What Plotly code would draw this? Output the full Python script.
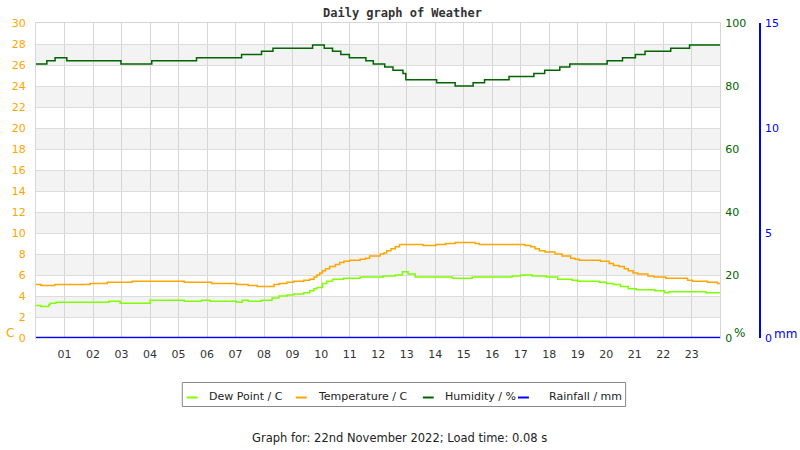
import plotly.graph_objects as go

# ---------------- data ----------------
hours = list(range(1, 24))
hour_labels = [f"{h:02d}" for h in hours]

temp_times = [0, 0.17, 0.66, 1.9, 2.5, 3.37, 5.2, 6.16, 7.03, 7.44, 7.76, 8.35, 8.52, 8.8, 9.04,
              9.39, 9.6, 9.75, 9.85, 9.95, 10.05, 10.15, 10.3, 10.5, 10.65, 10.8, 11.0, 11.37,
              11.55, 11.7, 12.07, 12.2, 12.3, 12.45, 12.6, 12.75, 13.57, 14.02, 14.37, 14.7,
              15.4, 15.55, 17.15, 17.35, 17.5, 17.65, 17.85, 18.2, 18.45, 18.75, 18.9, 19.05,
              19.8, 20.1, 20.25, 20.45, 20.63, 20.77, 20.94, 21.1, 21.46, 21.67, 22.09, 22.85,
              23.03, 23.55, 23.9, 24.0]
temp_values = [5.1, 5.0, 5.1, 5.2, 5.3, 5.4, 5.3, 5.2, 5.1, 5.0, 4.9, 5.1, 5.2, 5.3, 5.4,
               5.5, 5.6, 5.8, 6.0, 6.2, 6.4, 6.6, 6.8, 7.0, 7.2, 7.3, 7.4, 7.5,
               7.6, 7.8, 8.0, 8.1, 8.3, 8.5, 8.7, 8.9, 8.8, 8.9, 9.0, 9.1,
               9.0, 8.9, 8.8, 8.7, 8.5, 8.3, 8.2, 8.0, 7.8, 7.6, 7.5, 7.4,
               7.3, 7.1, 6.9, 6.8, 6.6, 6.4, 6.2, 6.1, 5.9, 5.8, 5.7, 5.5,
               5.4, 5.3, 5.2, 5.2]

dew_times = [0, 0.17, 0.45, 0.5, 0.7, 2.55, 2.95, 4.0, 5.2, 5.8, 6.1, 7.03, 7.23, 7.44, 7.9,
             8.28, 8.52, 8.8, 9.04, 9.39, 9.6, 9.75, 9.85, 10.05, 10.2, 10.4, 10.78, 11.37,
             12.17, 12.6, 12.85, 13.05, 13.3, 14.6, 15.3, 16.7, 17.0, 17.4, 17.9, 18.3, 18.8,
             19.0, 19.75, 20.0, 20.25, 20.5, 20.77, 21.05, 21.7, 22.05, 22.2, 23.5, 24.0]
dew_values = [3.1, 3.0, 3.2, 3.3, 3.4, 3.5, 3.3, 3.6, 3.5, 3.6, 3.5, 3.4, 3.6, 3.5, 3.6,
              3.8, 4.0, 4.1, 4.2, 4.3, 4.5, 4.7, 4.8, 5.2, 5.4, 5.6, 5.7, 5.8,
              5.9, 6.0, 6.3, 6.1, 5.8, 5.7, 5.8, 5.9, 6.0, 5.9, 5.8, 5.6, 5.5,
              5.4, 5.3, 5.2, 5.1, 4.9, 4.7, 4.6, 4.5, 4.3, 4.4, 4.3, 4.3]

hum_times = [0, 0.38, 0.67, 1.08, 2.98, 4.06, 5.63, 7.21, 7.91, 8.31, 9.70, 10.11, 10.40,
             10.69, 10.99, 11.57, 11.83, 12.23, 12.52, 12.87, 12.97, 14.05, 14.70, 15.33,
             15.73, 16.59, 17.46, 17.84, 18.37, 18.72, 20.03, 20.57, 21.02, 21.36, 22.26,
             22.92, 24.0]
hum_values = [87, 88, 89, 88, 87, 88, 89, 90, 91, 92, 93, 92, 91,
              90, 89, 88, 87, 86, 85, 84, 82, 81, 80, 81,
              82, 83, 84, 85, 86, 87, 88, 89, 90, 91, 92,
              93, 93]

rain_times = [0, 24]
rain_values = [0, 0]

series_names = ["Dew Point / C", "Temperature / C", "Humidity / %", "Rainfall / mm"]
series_colors = ["#7fff00", "#ffa500", "#006400", "#0000ff"]

# ---------------- geometry helpers ----------------
W, H = 800, 450
ML, MR, MT, MB = 30, 40, 23, 112
PW = W - ML - MR
PH = H - MT - MB
x_dom_end = (720 - ML) / PW


def px(x):
    return (x - ML) / PW


def py(y):
    return (H - MB - y) / PH


FONT = "DejaVu Sans"

fig = go.Figure()
fig.add_trace(go.Scatter(x=rain_times, y=rain_values, mode="lines", name=series_names[3],
                         line=dict(color=series_colors[3], width=2.5), yaxis="y3",
                         showlegend=False))
fig.add_trace(go.Scatter(x=hum_times, y=hum_values, mode="lines", name=series_names[2],
                         line=dict(color=series_colors[2], width=1.5, shape="hv"), yaxis="y2",
                         showlegend=False))
fig.add_trace(go.Scatter(x=temp_times, y=temp_values, mode="lines", name=series_names[1],
                         line=dict(color=series_colors[1], width=1.5, shape="hv"),
                         showlegend=False))
fig.add_trace(go.Scatter(x=dew_times, y=dew_values, mode="lines", name=series_names[0],
                         line=dict(color=series_colors[0], width=1.5, shape="hv"),
                         showlegend=False))

shapes = []
for lo in range(2, 28, 4):
    shapes.append(dict(type="rect", xref="x", yref="y", x0=0, x1=24, y0=lo, y1=lo + 2,
                       fillcolor="#f3f3f3", line=dict(width=0), layer="below"))

# manual legend
shapes.append(dict(type="rect", xref="paper", yref="paper", x0=px(177.5), x1=px(624.5),
                   y0=py(406.5), y1=py(382.5), line=dict(color="#888888", width=1),
                   fillcolor="white"))
legend_line_x = [182, 292, 420, 516]
legend_text_x = [202, 312, 440, 545]
annotations = []
for name, col, lx, tx in zip(series_names, series_colors, legend_line_x, legend_text_x):
    shapes.append(dict(type="line", xref="paper", yref="paper", x0=px(lx), x1=px(lx + 11),
                       y0=py(397.5), y1=py(397.5), line=dict(color=col, width=2)))
    annotations.append(dict(text=name, xref="paper", yref="paper", x=px(tx), y=py(396),
                            xanchor="left", yanchor="middle", showarrow=False,
                            font=dict(family=FONT, size=11, color="#222222")))

annotations += [
    dict(text="Daily graph of Weather", xref="paper", yref="paper", x=px(400), y=py(13),
         xanchor="center", yanchor="middle", showarrow=False,
         font=dict(family="DejaVu Sans Mono", size=12, color="#333333", weight="bold")),
    dict(text="C", xref="paper", yref="paper", x=px(4), y=py(333), xanchor="center",
         yanchor="middle", showarrow=False, font=dict(family=FONT, size=12, color="#ffa500")),
    dict(text="%", xref="paper", yref="paper", x=px(739), y=py(333), xanchor="center",
         yanchor="middle", showarrow=False, font=dict(family=FONT, size=12, color="#006400")),
    dict(text="mm", xref="paper", yref="paper", x=px(786), y=py(334), xanchor="center",
         yanchor="middle", showarrow=False, font=dict(family=FONT, size=12, color="#0000ff")),
    dict(text="Graph for: 22nd November 2022; Load time: 0.08 s", xref="paper",
         yref="paper", x=px(397), y=py(438), xanchor="center", yanchor="middle",
         showarrow=False, font=dict(family=FONT, size=11.5, color="#222222")),
]

fig.update_layout(
    width=W, height=H,
    margin=dict(l=ML, r=MR, t=MT, b=MB, pad=0),
    paper_bgcolor="white", plot_bgcolor="white",
    showlegend=False,
    font=dict(family=FONT, size=11, color="#333333"),
    xaxis=dict(domain=[0, x_dom_end], range=[0, 24], tickmode="array", tickvals=hours,
               ticktext=hour_labels, showgrid=True, gridcolor="#d6d6d6", gridwidth=1,
               zeroline=False, showline=True, linecolor="#d6d6d6", mirror=True,
               ticks="", ticklabelstandoff=6, tickfont=dict(size=11, color="#333333")),
    yaxis=dict(range=[0, 30], dtick=2, showgrid=True, gridcolor="#dcdcdc", zeroline=False,
               showline=True, linecolor="#d6d6d6", mirror=True, ticks="",
               ticklabelstandoff=7, tickfont=dict(size=11, color="#ffa500")),
    yaxis2=dict(range=[0, 100], dtick=20, overlaying="y", side="right", anchor="x",
                showgrid=False, zeroline=False, showline=False, ticks="",
                ticklabelstandoff=4, tickfont=dict(size=11, color="#006400")),
    yaxis3=dict(range=[0, 15], dtick=5, overlaying="y", side="right", anchor="free",
                position=1.0, showgrid=False, zeroline=False, showline=True,
                linecolor="#0000ff", linewidth=1.5, ticks="", ticklabelstandoff=2,
                tickfont=dict(size=11, color="#0000ff")),
    shapes=shapes,
    annotations=annotations,
)

fig.write_html("out.html")
